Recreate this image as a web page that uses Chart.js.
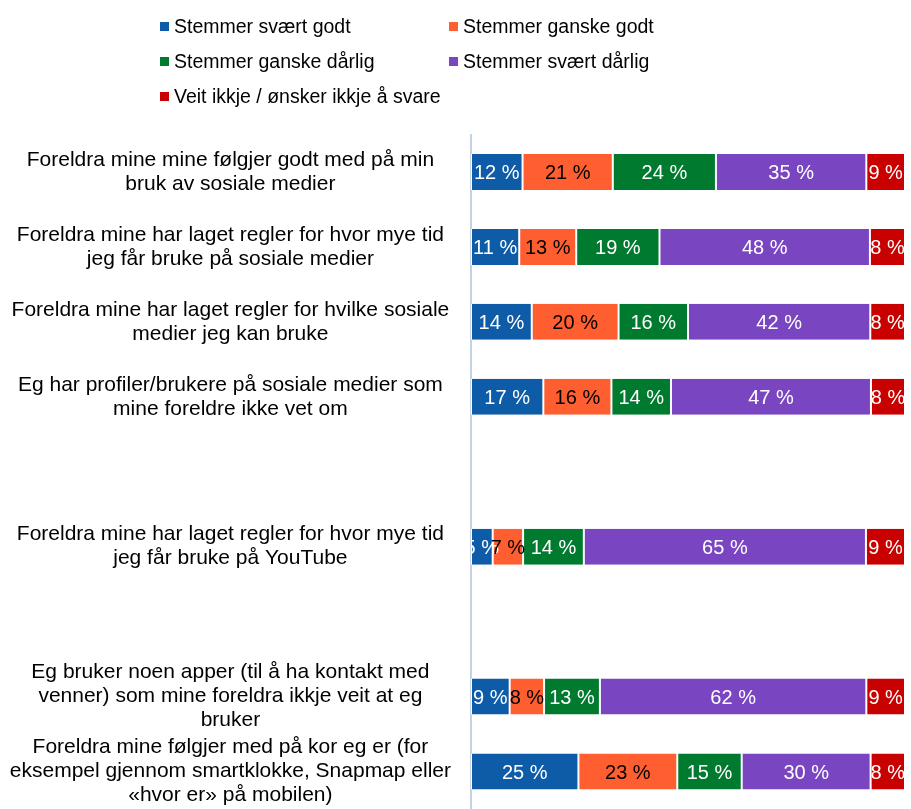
<!DOCTYPE html>
<html lang="no">
<head>
    <meta charset="UTF-8">
    <title>Foreldre og sosiale medier</title>
    <script src="https://cdn.jsdelivr.net/npm/chart.js"></script>
    <style>
        body {
            margin: 0;
            background: white;
        }
        #wrap {
            width: 911px;
            height: 809px;
        }
    </style>
</head>
<body>
    <div id="wrap">
        <canvas id="graf" width="911" height="809"></canvas>
    </div>

    <script>
        // kategorier (tomme rader gir mellomrom slik som i originalen)
        const kategorier = [
            ["Foreldra mine mine følgjer godt med på min", "bruk av sosiale medier"],
            ["Foreldra mine har laget regler for hvor mye tid", "jeg får bruke på sosiale medier"],
            ["Foreldra mine har laget regler for hvilke sosiale", "medier jeg kan bruke"],
            ["Eg har profiler/brukere på sosiale medier som", "mine foreldre ikke vet om"],
            "",
            ["Foreldra mine har laget regler for hvor mye tid", "jeg får bruke på YouTube"],
            "",
            ["Eg bruker noen apper (til å ha kontakt med", "venner) som mine foreldra ikkje veit at eg", "bruker"],
            ["Foreldra mine følgjer med på kor eg er (for", "eksempel gjennom smartklokke, Snapmap eller", "«hvor er» på mobilen)"]
        ];

        const serier = ["Stemmer svært godt", "Stemmer ganske godt", "Stemmer ganske dårlig",
                        "Stemmer svært dårlig", "Veit ikkje / ønsker ikkje å svare"];

        const svaertGodt    = [12, 11, 14, 17, null, 5,  null, 9,  25];
        const ganskeGodt    = [21, 13, 20, 16, null, 7,  null, 8,  23];
        const ganskeDaarlig = [24, 19, 16, 14, null, 14, null, 13, 15];
        const svaertDaarlig = [35, 48, 42, 47, null, 65, null, 62, 30];
        const veitIkkje     = [9,  8,  8,  8,  null, 9,  null, 9,  8];

        const farger = ["#0E5CA8", "#FF5E31", "#007A2E", "#7A45C0", "#C80000"];
        const tekstFarger = ["#fff", "#000", "#fff", "#fff", "#fff"];

        const verdier = [svaertGodt, ganskeGodt, ganskeDaarlig, svaertDaarlig, veitIkkje];

        // 100 % stablet: hver rad skaleres til summen av radene
        const summer = kategorier.map((_, i) =>
            verdier.reduce((s, arr) => s + (arr[i] || 0), 0));

        const datasett = serier.map((navn, k) => ({
            label: navn,
            data: verdier[k].map((v, i) => v == null ? null : v / summer[i] * 100),
            etiketter: verdier[k],
            backgroundColor: farger[k],
            borderColor: "#fff",
            borderWidth: { left: 1, right: 1, top: 0, bottom: 0 },
            borderSkipped: false,
            barPercentage: 1,
            categoryPercentage: 0.48
        }));

        const font = "'Liberation Sans', Arial, sans-serif";

        // verdietiketter midt i hver del av stolpen
        const verdiEtiketter = {
            id: "verdiEtiketter",
            afterDatasetsDraw(chart) {
                const ctx = chart.ctx;
                const a = chart.chartArea;
                ctx.save();
                ctx.beginPath();
                ctx.rect(a.left, a.top, a.right - a.left + 6, a.bottom - a.top);
                ctx.clip();
                ctx.font = "20px " + font;
                ctx.textAlign = "center";
                ctx.textBaseline = "middle";
                chart.data.datasets.forEach((ds, k) => {
                    const meta = chart.getDatasetMeta(k);
                    meta.data.forEach((el, i) => {
                        const v = ds.etiketter[i];
                        if (v == null) return;
                        const p = el.getProps(["x", "y", "base"], true);
                        ctx.fillStyle = tekstFarger[k];
                        ctx.fillText(v + " %", (p.x + p.base) / 2, p.y + 2);
                    });
                });
                ctx.restore();
            }
        };

        // forklaring i to kolonner
        const forklaring = {
            id: "forklaring",
            afterDraw(chart) {
                const ctx = chart.ctx;
                const kolX = [160, 449];
                ctx.save();
                ctx.font = "19.5px " + font;
                ctx.textBaseline = "middle";
                ctx.textAlign = "left";
                chart.data.datasets.forEach((ds, k) => {
                    const x = kolX[k % 2];
                    const y = 27 + Math.floor(k / 2) * 35;
                    ctx.fillStyle = ds.backgroundColor;
                    ctx.fillRect(x, y - 5, 9, 9);
                    ctx.fillStyle = "#000";
                    ctx.fillText(ds.label, x + 14, y + 1);
                });
                ctx.restore();
            }
        };

        new Chart(document.getElementById("graf"), {
            type: "bar",
            data: { labels: kategorier, datasets: datasett },
            plugins: [verdiEtiketter, forklaring],
            options: {
                indexAxis: "y",
                responsive: false,
                animation: false,
                layout: { padding: { top: 134.5, right: 6, bottom: 0, left: 0 } },
                plugins: {
                    legend: { display: false },
                    tooltip: { enabled: false }
                },
                scales: {
                    x: {
                        stacked: true,
                        min: 0,
                        max: 100,
                        display: false
                    },
                    y: {
                        stacked: true,
                        grid: { display: false },
                        border: { color: "#C5D2E3", width: 2 },
                        ticks: {
                            color: "#000",
                            crossAlign: "center",
                            padding: 12,
                            autoSkip: false,
                            font: { family: font, size: 21, lineHeight: 1.143 }
                        },
                        afterFit(scale) {
                            scale.width = 471;
                            // etikettene får gå utenfor plottet, som i originalen
                            scale.paddingTop = 0;
                            scale.paddingBottom = 0;
                        }
                    }
                }
            }
        });
    </script>
</body>
</html>
